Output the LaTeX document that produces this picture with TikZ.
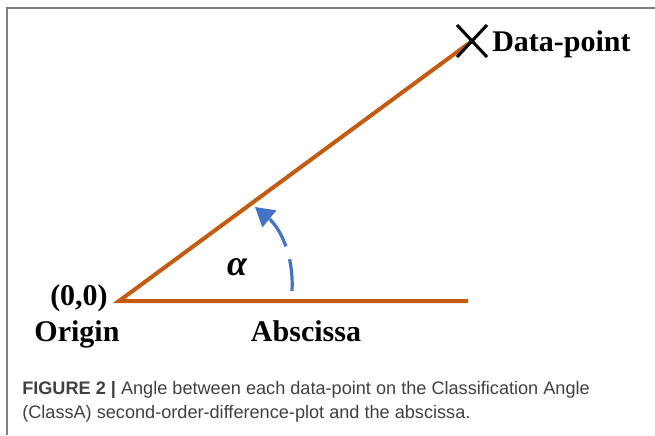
\documentclass[tikz,border=0pt]{standalone}
\usepackage{fontspec}
\setmainfont{Liberation Serif}
\setsansfont{Liberation Sans}
\definecolor{legorange}{HTML}{C55A11}
\definecolor{arcblue}{HTML}{4472C4}
\definecolor{framegray}{HTML}{808080}
\definecolor{captiongray}{HTML}{404040}
\usetikzlibrary{arrows.meta, positioning, calc}

\begin{document}
\begin{tikzpicture}[x=0.75pt, y=-0.75pt,
    leg/.style={line width=3pt, legorange},
    cross/.style={line width=2.3pt, black},
    lbl/.style={font=\fontsize{22.5}{24}\selectfont\bfseries, inner sep=0pt},
    anglearrow/.style={line width=2.4pt, arcblue, dash pattern=on 24pt off 10pt,
                       -{Triangle[length=14pt, width=16pt]}},
    frame/.style={line width=1pt, framegray}
  ]
    \useasboundingbox (0,0) rectangle (655,435);

    % Frame
    \draw[frame] (7,435) |- (655,8);

    % Points
    \coordinate (org) at (119,301);
    \coordinate (absend) at (468,301);
    \coordinate (dp) at (472,41);

    % Legs of the angle
    \draw[leg] (dp) -- (org) -- (absend);

    % Data-point marker
    \draw[cross] ($(dp)+(-15,-16)$) -- ($(dp)+(15,16)$);
    \draw[cross] ($(dp)+(-15,16)$) -- ($(dp)+(15,-16)$);

    % Labels
    \node[lbl, anchor=base west] (dplbl) at (492,51) {Data-point};
    \node[lbl, anchor=base east] (zero) at (108,305) {(0,0)};
    \node[lbl, anchor=base] (orglbl) at (77,341) {Origin};
    \node[lbl, anchor=base] (abslbl) at (306,341) {Abscissa};
    \node[lbl, font=\fontsize{27}{28}\selectfont\bfseries\itshape] (alpha) at (237,267) {α};

    % Angle arrow
    \coordinate (arcstart) at (292,291);
    \coordinate (arcend) at (255,207);
    \draw[anglearrow] (arcstart) .. controls (294,252) and (278,226) .. (arcend);

    % Caption
    \node[anchor=base west, inner sep=0pt, align=left, text=captiongray,
          font=\sffamily\fontsize{13.6}{18}\selectfont] (caption) at (22,418)
      {\textbf{FIGURE 2 |} Angle between each data-point on the Classification Angle\\
       (ClassA) second-order-difference-plot and the abscissa.};
\end{tikzpicture}
\end{document}
